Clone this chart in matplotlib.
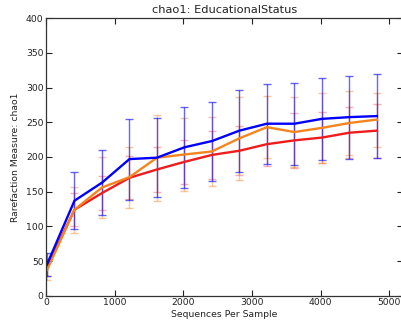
import matplotlib
matplotlib.use("Agg")
import matplotlib.pyplot as plt

# sequences per sample (rarefaction depths)
depths = [10, 411, 812, 1213, 1614, 2015, 2416, 2817, 3218, 3619, 4020, 4421, 4822]

# mean chao1 per group, with std error bars
blue_mean = [45, 137, 163, 197, 199, 214, 223, 238, 248, 248, 255, 257.5, 259]
blue_err = [17, 41, 46.5, 58.5, 57, 58, 57, 59, 57.5, 59, 59, 60, 61]

orange_mean = [37, 124, 156, 171, 199, 203.6, 208, 227, 243, 236, 242, 249, 254]
orange_err = [14.5, 33, 44.5, 44, 62, 52, 50, 60, 45, 50, 51, 46.5, 39]

red_mean = [41, 124, 148, 170, 182, 193, 203, 209, 218.5, 224, 228, 235, 238]
red_err = [12, 24, 25, 31, 32, 32, 35, 35, 31, 40, 36.5, 36.5, 39]

series = [
    (red_mean, red_err, "#ee1c1c", 0.35),
    (orange_mean, orange_err, "#f5841f", 0.45),
    (blue_mean, blue_err, "#0000ff", 0.6),
]

fig = plt.figure(figsize=(4.01, 3.28), dpi=100)
ax = fig.add_axes([46.3 / 401, 1 - 295.7 / 328, 356.5 / 401, 277.4 / 328])

for mean, err, col, a in series:
    ax.errorbar(depths, mean, yerr=err, color=col, ecolor=col, elinewidth=1,
                capsize=3, capthick=1, alpha=a, fmt="none")
for mean, err, col, a in series:
    ax.plot(depths, mean, color=col, linewidth=1.7)

ax.set_xlim(0, 5200)
ax.set_ylim(0, 400)
ax.set_xticks([0, 1000, 2000, 3000, 4000, 5000])
ax.set_yticks(range(0, 401, 50))
ax.tick_params(direction="in", length=4, width=0.8, labelsize=6.7,
               top=True, right=True, pad=2, colors="#222222")
for s in ax.spines.values():
    s.set_color("#333333")
    s.set_linewidth(0.9)

ax.set_title("chao1: EducationalStatus", fontsize=8.2, pad=4, color="#222222")
ax.set_xlabel("Sequences Per Sample", fontsize=6.7, labelpad=2, color="#222222")
ax.set_ylabel("Rarefaction Measure: chao1", fontsize=6.7, labelpad=4, color="#222222")

fig.savefig("out.png", dpi=100)
